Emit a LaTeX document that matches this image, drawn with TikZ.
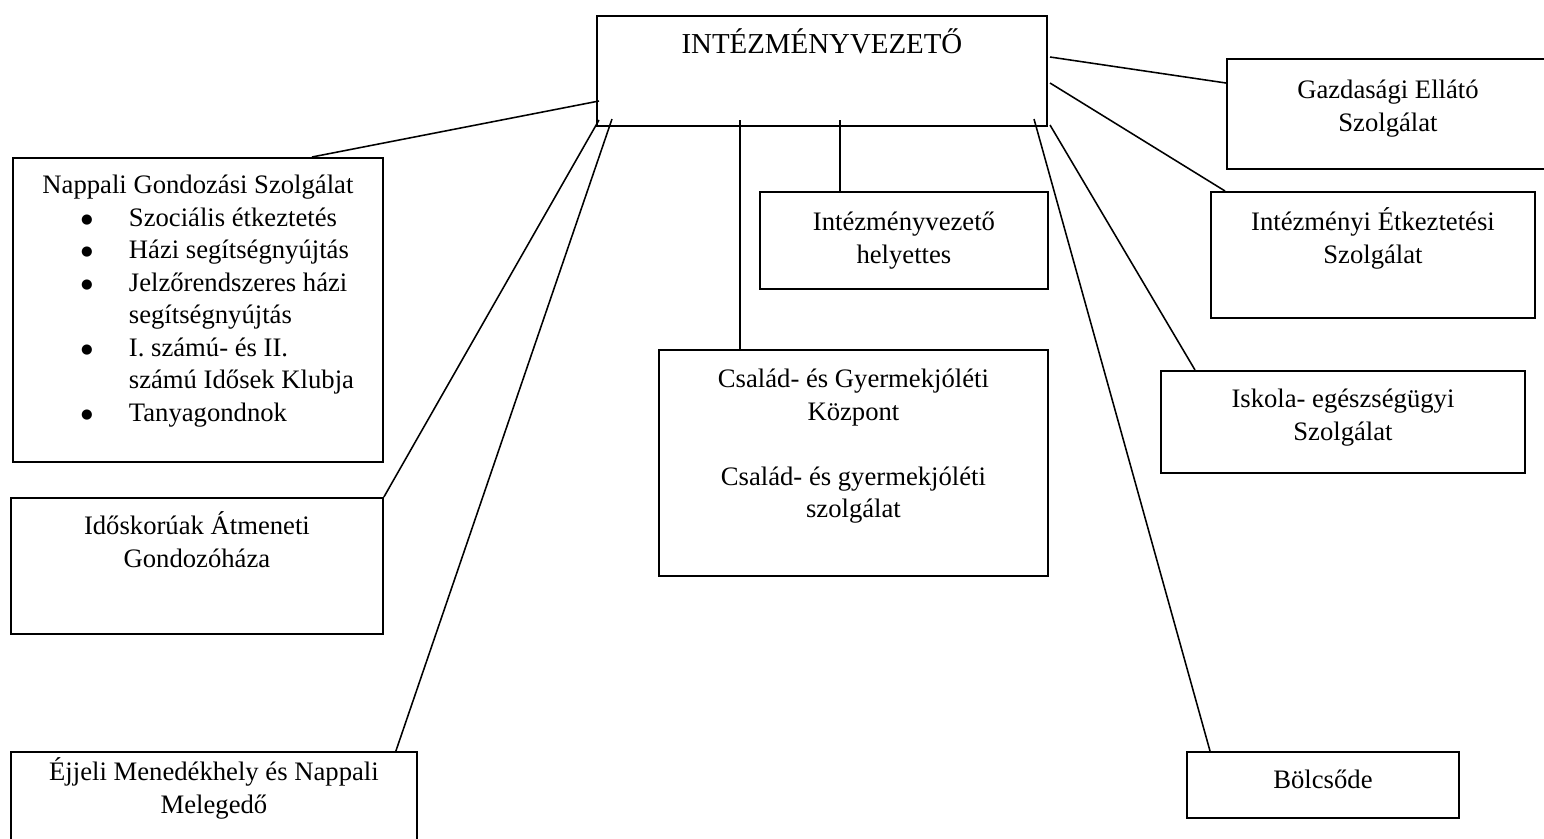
\documentclass[tikz,border=0pt]{standalone}
\usepackage{fontspec}
\setmainfont{Liberation Serif}
\newfontfamily\dotfont{DejaVu Sans}
\usetikzlibrary{calc}
\newlength\pxu
\setlength\pxu{0.45pt}
\newcommand{\boxtext}[4]{\parbox[c][#2\pxu][t]{#1\pxu}{\parskip=0pt\centering\rule{0pt}{#3\pxu}#4\par}}
\newcommand{\bul}{\leavevmode\llap{\makebox[20\pxu]{\raisebox{1.3pt}{\dotfont\fontsize{6pt}{6pt}\selectfont ●}}\hspace{32\pxu}}}
\begin{document}
\begin{tikzpicture}[x=0.45pt,y=-0.45pt,
    unit/.style={draw,line width=0.85pt,inner sep=0pt,anchor=north west,
      font=\fontsize{12pt}{14.6pt}\selectfont}]
  \useasboundingbox (0,0) rectangle (1544,838);
  \draw
    (596,15) node[unit,font=\fontsize{13pt}{15pt}\selectfont] (vezeto)
      {\boxtext{450}{110}{38}{INTÉZMÉNYVEZETŐ}}
    (12,157) node[unit] (nappali)
      {\boxtext{370}{304}{36}{Nappali Gondozási Szolgálat\par
        \raggedright\leftskip=116\pxu
        \bul Szociális étkeztetés\par
        \bul Házi segítségnyújtás\par
        \bul Jelzőrendszeres házi\\ segítségnyújtás\par
        \bul I. számú- és II.\\ számú Idősek Klubja\par
        \bul Tanyagondnok}}
    (10,497) node[unit] (idos)
      {\boxtext{372}{136}{37}{Időskorúak Átmeneti\\ Gondozóháza}}
    (10,751) node[unit] (ejjeli)
      {\boxtext{406}{100}{29}{Éjjeli Menedékhely és Nappali\\ Melegedő}}
    (759,191) node[unit] (helyettes)
      {\boxtext{288}{97}{39}{Intézményvezető\\ helyettes}}
    (658,349) node[unit] (csalad)
      {\boxtext{389}{226}{38}{Család- és Gyermekjóléti\\ Központ\\[\baselineskip]
        Család- és gyermekjóléti\\ szolgálat}}
    (1226,58) node[unit] (gazd)
      {\boxtext{322}{110}{40}{Gazdasági Ellátó\\ Szolgálat}}
    (1210,191) node[unit] (etkeztetes)
      {\boxtext{324}{126}{39}{Intézményi Étkeztetési\\ Szolgálat}}
    (1160,370) node[unit] (iskola)
      {\boxtext{364}{102}{37}{Iskola- egészségügyi\\ Szolgálat}}
    (1186,751) node[unit] (bolcsode)
      {\boxtext{272}{66}{37}{Bölcsőde}};
  \coordinate (v1) at (599,101);
  \coordinate (v2) at (599,120);
  \coordinate (v3) at (612,119);
  \coordinate (v4) at (740,120);
  \coordinate (v5) at (840,120);
  \coordinate (v6) at (1034,119);
  \coordinate (v7) at (1050,125);
  \coordinate (v8) at (1050,83);
  \coordinate (v9) at (1050,57);
  \begin{scope}[line width=0.7pt]
    \draw (v1) to ($(nappali.north west)+(300,0)$);
    \draw (v2) to (idos.north east);
    \draw (v3) to ($(ejjeli.north east)+(-22,0)$);
    \draw (v4) to (csalad.north -| v4);
    \draw (v5) to (helyettes.north -| v5);
    \draw (v6) to ($(bolcsode.north west)+(24,0)$);
    \draw (v7) to ($(iskola.north west)+(35,0)$);
    \draw (v8) to ($(etkeztetes.north west)+(15,0)$);
    \draw (v9) to ($(gazd.north west)+(0,25)$);
  \end{scope}
\end{tikzpicture}
\end{document}
